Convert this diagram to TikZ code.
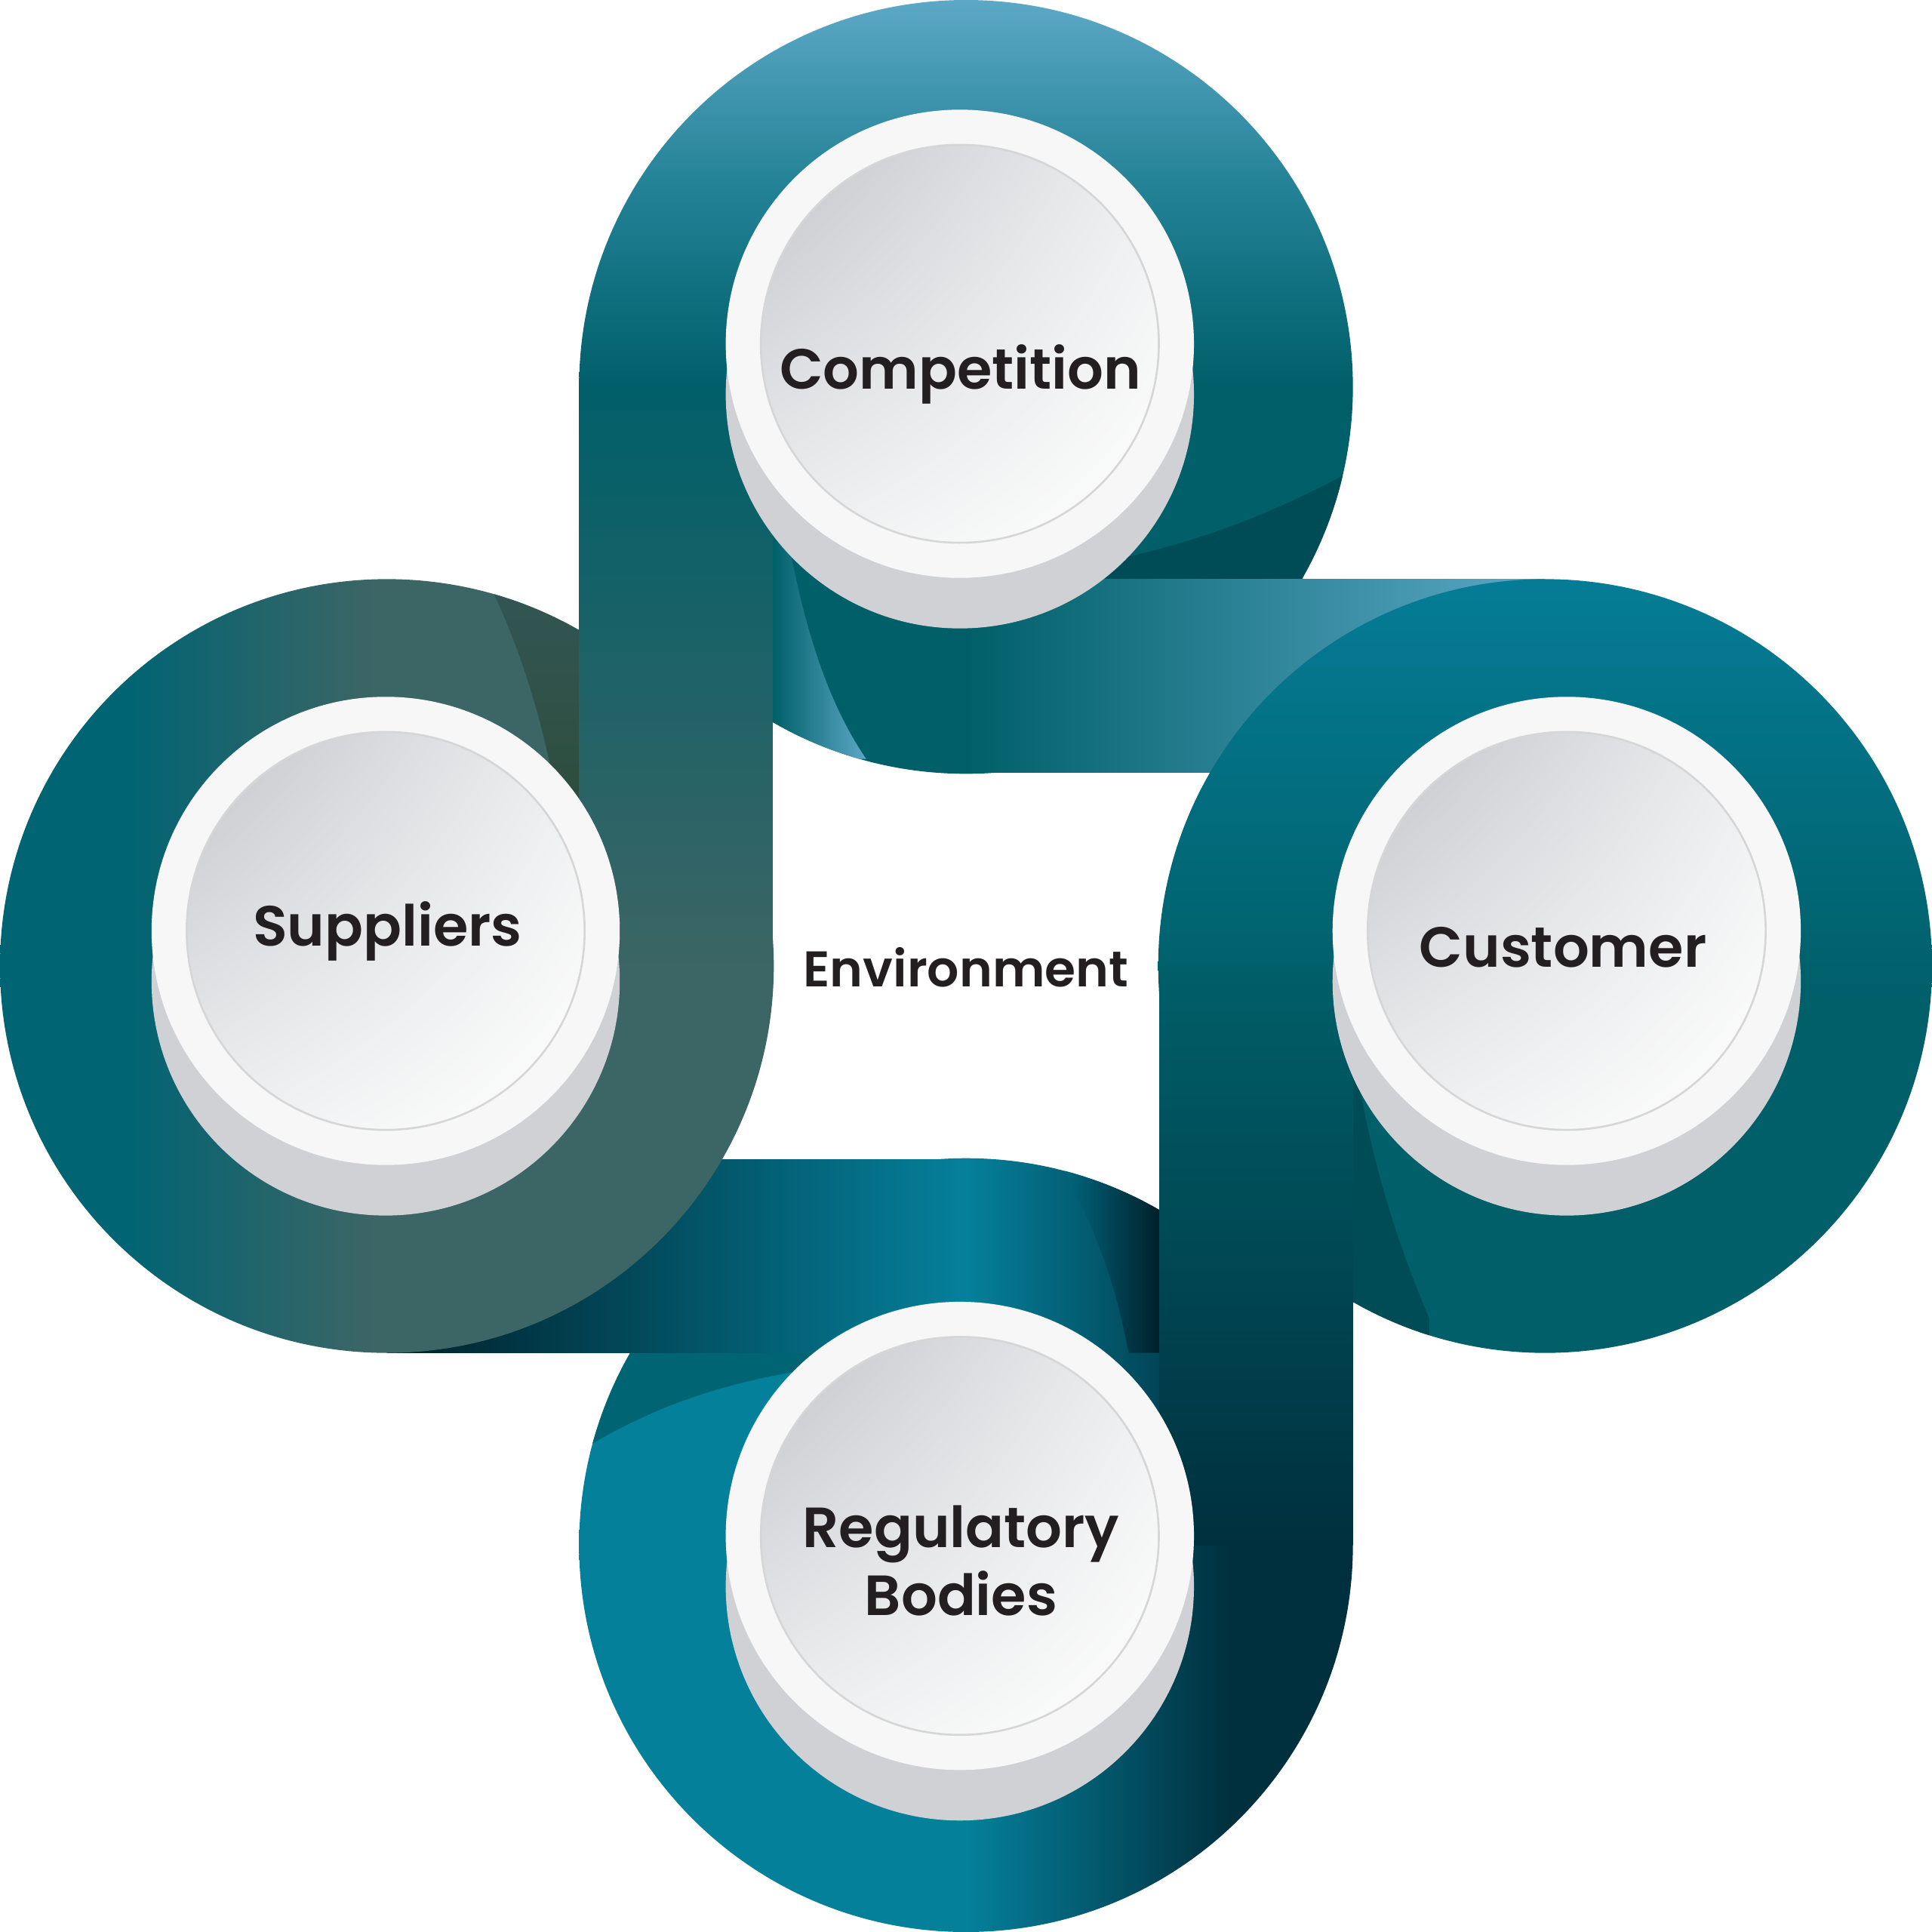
\documentclass[tikz,border=0pt]{standalone}
\usepackage{fontspec}
\newfontfamily\lblfont{Poppins SemiBold}
\usetikzlibrary{calc,shadings}

\definecolor{tealD}{RGB}{0,95,105}
\definecolor{tealB}{RGB}{5,128,155}
\definecolor{lightB}{RGB}{92,168,198}
\definecolor{compmid}{RGB}{35,130,150}
\definecolor{custtop}{RGB}{5,124,150}
\definecolor{grayT}{RGB}{60,101,101}
\definecolor{supleft}{RGB}{0,100,115}
\definecolor{navy}{RGB}{0,32,42}
\definecolor{supmid}{RGB}{0,104,128}
\definecolor{regdark}{RGB}{0,48,62}
\definecolor{regbandmid}{RGB}{0,64,78}
\definecolor{foldD}{RGB}{0,76,86}
\definecolor{shadowc}{RGB}{208,209,213}
\definecolor{facec}{RGB}{247,247,247}
\definecolor{faceA}{RGB}{196,197,202}
\definecolor{faceB}{RGB}{238,239,240}
\definecolor{rimc}{RGB}{214,214,214}
\definecolor{labelc}{RGB}{35,31,32}

\pgfdeclareverticalshading{compdisk}{100bp}{color(0bp)=(tealD); color(50bp)=(tealD); color(63bp)=(compmid); color(75bp)=(lightB); color(100bp)=(lightB)}
\pgfdeclareverticalshading{custdisk}{100bp}{color(0bp)=(tealD); color(48bp)=(tealD); color(75bp)=(custtop); color(100bp)=(custtop)}
\pgfdeclarehorizontalshading{regdisk}{100bp}{color(0bp)=(tealB); color(50bp)=(tealB); color(67bp)=(regdark); color(100bp)=(regdark)}
\pgfdeclarehorizontalshading{supdisk}{100bp}{color(0bp)=(supleft); color(33bp)=(supleft); color(49bp)=(grayT); color(100bp)=(grayT)}

\tikzset{
  lbl/.style={font=\lblfont\fontsize{34.5}{41.25}\selectfont, text=labelc, inner sep=0pt},
  rim/.style={draw=rimc, line width=1.2pt}
}

\begin{document}
\begin{tikzpicture}[x=0.75pt,y=0.75pt,yscale=-1,xscale=1]
\useasboundingbox (0,0) rectangle (1568,1568);

% disks and bands, in overlap order
\shade [shading=compdisk] (784,314) circle (314);
\begin{scope}
  \clip (784,314) circle (314);
  \fill [foldD] (1110,375) .. controls (1030,420) and (960,445) .. (875,460) -- (875,480) -- (1110,480) -- cycle;
  \shade [left color=tealD, right color=lightB] (627,440) -- (640,440) .. controls (655,520) and (675,575) .. (703,616) -- (627,616) -- cycle;
\end{scope}

\shade [shading=regdisk] (784,1254) circle (314);
\begin{scope}
  \clip (784,1254) circle (314);
  \fill [supleft] (470,1098) -- (470,1178) .. controls (540,1135) and (600,1120) .. (665,1110) -- (665,1098) -- cycle;
  \shade [left color=supmid, right color=navy] (862,946) .. controls (890,1000) and (905,1040) .. (916,1098) -- (941,1098) -- (941,940) -- cycle;
\end{scope}

\shade [left color=tealD, right color=lightB] (784,470) rectangle (1254,627);
\shade [shading=custdisk] (1254,784) circle (314);
\begin{scope}
  \clip (1254,784) circle (314);
  \fill [foldD] (1098,850) .. controls (1110,930) and (1130,1000) .. (1160,1070) -- (1160,1110) -- (1098,1110) -- cycle;
\end{scope}

\shade [left color=navy, middle color=supmid, right color=tealB] (314,941) rectangle (784,1098);
\shade [shading=supdisk] (314,784) circle (314);
\begin{scope}
  \clip (314,784) circle (314);
  \shade [top color=grayT!85!black, bottom color={rgb,255:red,45;green,78;blue,60}] (395,470) .. controls (420,520) and (440,580) .. (452,650) -- (470,650) -- (470,470) -- cycle;
\end{scope}

\shade [top color=tealD, bottom color=grayT] (470,314) rectangle (627,784);
\shade [top color=tealD, middle color=regbandmid, bottom color=regdark] (941,784) rectangle (1098,1254);

% buttons
\foreach \cx/\cy in {779/279, 313/755.5, 1271.5/755.5, 779/1246.5}{
  \fill [shadowc] (\cx,\cy+41) circle (190);
  \fill [facec] (\cx,\cy) circle (190);
  \shade [upper left=faceA, upper right=faceB, lower left=faceB, lower right=white] (\cx,\cy) circle (161.5);
  \draw [rim] (\cx,\cy) circle (161.5);
}

\node [lbl, anchor=base] (comp) at (779.5,316) {Competition};
\node [lbl, anchor=base] (supp) at (314.5,768) {Suppliers};
\node [lbl, anchor=base] (cust) at (1268.5,785) {Customer};
\node [lbl, anchor=base, font=\lblfont\fontsize{30.5}{36}\selectfont] (env) at (784,801) {Environment};
\node [lbl, anchor=base, align=center] (regb) at (780,1311) {Regulatory\\Bodies};
\end{tikzpicture}
\end{document}
